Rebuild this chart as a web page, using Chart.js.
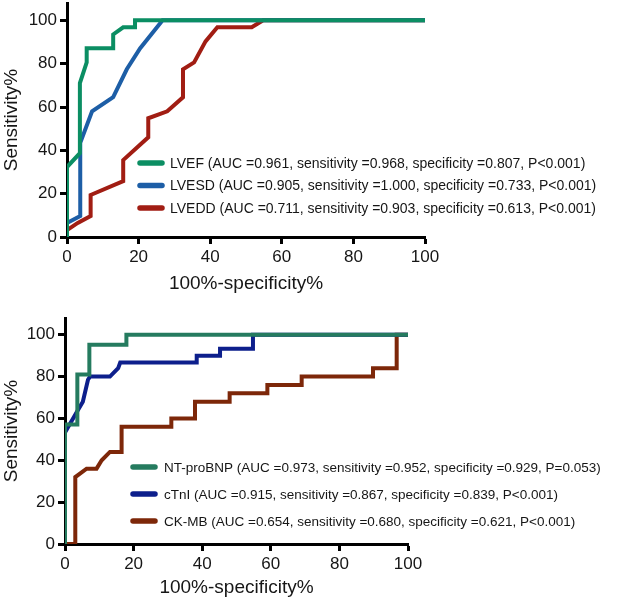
<!DOCTYPE html>
<html>
<head>
<meta charset="utf-8">
<script src="https://cdn.jsdelivr.net/npm/chart.js@4.4.0/dist/chart.umd.min.js"></script>
<style>
  html, body { margin: 0; padding: 0; background: #fff; }
  #wrap { position: relative; width: 618px; height: 602px; }
  canvas { position: absolute; left: 0; }
  #rocTop { top: 0; }
  #rocBottom { top: 300px; }
</style>
</head>
<body>
<div id="wrap">
  <canvas id="rocTop" width="618" height="300"></canvas>
  <canvas id="rocBottom" width="618" height="302"></canvas>
</div>
<script>
// tick labels
const xTicks = [0, 20, 40, 60, 80, 100];
const yTicks = [0, 20, 40, 60, 80, 100];

// top panel: echo parameters
const lvefX  = [0, 0, 3.6, 3.6, 5.5, 5.5, 12.9, 12.9, 15.7, 19, 19, 100];
const lvefY  = [0, 32.3, 38.7, 71, 80.6, 87.1, 87.1, 93.5, 96.8, 96.8, 100, 100];
const lvesdX = [0, 0, 3.7, 3.7, 7, 12.9, 16.7, 20.4, 26.7, 100];
const lvesdY = [0, 6.5, 9.7, 43.5, 58, 64.5, 77.4, 87, 100, 100];
const lveddX = [0, 0, 3, 6.6, 6.6, 15.7, 15.7, 22.7, 22.7, 28, 32.4, 32.4, 35.5, 38.7, 42, 51.6, 54.8, 100];
const lveddY = [0, 3.2, 6.5, 9.7, 19.4, 25.8, 35.5, 46, 54.8, 58, 64.5, 77.4, 80.6, 90.3, 96.8, 96.8, 100, 100];

// bottom panel: biomarkers
const ntX  = [0, 0, 3.6, 3.6, 7.1, 7.1, 17.9, 17.9, 100];
const ntY  = [0, 57.1, 57.1, 81, 81, 95.2, 95.2, 100, 100];
const ctnX = [0, 0, 3.4, 5.2, 6.7, 7.3, 13.1, 15.5, 16.1, 38.4, 38.4, 45.2, 45.2, 54.8, 54.8, 100];
const ctnY = [0, 53.3, 63, 68, 78.5, 80, 80, 84, 86.7, 86.7, 90, 90, 93.3, 93.3, 100, 100];
const ckX  = [0, 3, 3, 6.3, 9.2, 10.7, 13.1, 16.5, 16.5, 31, 31, 37.9, 37.9, 48, 48, 59, 59, 69, 69, 89.8, 89.8, 96.7, 96.7, 100];
const ckY  = [0, 0, 32, 36, 36, 40, 44, 44, 56, 56, 60, 60, 68, 68, 72, 72, 76, 76, 80, 80, 84, 84, 100, 100];

const topLabels = [
  "LVEF (AUC =0.961, sensitivity =0.968, specificity =0.807, P<0.001)",
  "LVESD (AUC =0.905, sensitivity =1.000, specificity =0.733, P<0.001)",
  "LVEDD (AUC =0.711, sensitivity =0.903, specificity =0.613, P<0.001)"
];
const bottomLabels = [
  "NT-proBNP (AUC =0.973, sensitivity =0.952, specificity =0.929, P=0.053)",
  "cTnI (AUC =0.915, sensitivity =0.867, specificity =0.839, P<0.001)",
  "CK-MB (AUC =0.654, sensitivity =0.680, specificity =0.621, P<0.001)"
];

const family = "'Liberation Sans', Arial, Helvetica, sans-serif";
const ink = "#161616";

function pts(xs, ys) {
  return xs.map((x, i) => ({ x: x, y: ys[i] }));
}

function series(label, xs, ys, color) {
  return {
    label: label,
    data: pts(xs, ys),
    borderColor: color,
    backgroundColor: color,
    borderWidth: 4,
    pointRadius: 0,
    tension: 0,
    fill: false,
    borderCapStyle: "round"
  };
}

// legend drawn inside the plot
const insetLegend = {
  id: "insetLegend",
  afterDatasetsDraw(chart, args, opts) {
    const ctx = chart.ctx;
    ctx.save();
    ctx.font = opts.size + "px " + family;
    ctx.textBaseline = "middle";
    chart.data.datasets.forEach((ds, i) => {
      const y = opts.y + i * opts.gap;
      ctx.strokeStyle = ds.borderColor;
      ctx.lineWidth = 5.5;
      ctx.lineCap = "round";
      ctx.beginPath();
      ctx.moveTo(opts.x1, y);
      ctx.lineTo(opts.x2, y);
      ctx.stroke();
      ctx.fillStyle = ink;
      ctx.fillText(ds.label, opts.tx, y + 1);
    });
    ctx.restore();
  }
};

function makeScales(yWidth, xHeight, titleBottom) {
  const grid = { drawOnChartArea: false, drawTicks: true, tickLength: 7, tickWidth: 3, tickColor: "#000" };
  const border = { display: true, color: "#000", width: 3 };
  return {
    x: {
      type: "linear", min: 0, max: 100,
      afterBuildTicks: s => { s.ticks = xTicks.map(v => ({ value: v })); },
      afterFit: s => { s.height = xHeight; s.paddingLeft = 0; s.paddingRight = 0; },
      grid: grid, border: border,
      ticks: { color: ink, font: { family: family, size: 17 }, padding: 3, maxRotation: 0, autoSkip: false },
      title: { display: true, text: "100%-specificity%", color: ink, font: { family: family, size: 19 }, padding: { top: 0, bottom: titleBottom } }
    },
    y: {
      type: "linear", min: 0, max: 108,
      afterBuildTicks: s => { s.ticks = yTicks.map(v => ({ value: v })); },
      afterFit: s => { s.width = yWidth; s.paddingTop = 0; s.paddingBottom = 0; },
      grid: grid, border: border,
      ticks: { color: ink, font: { family: family, size: 17 }, padding: 3 },
      title: { display: true, text: "Sensitivity%", color: ink, font: { family: family, size: 19 }, padding: { top: 0, bottom: 0 } }
    }
  };
}

new Chart(document.getElementById("rocTop").getContext("2d"), {
  type: "line",
  data: {
    datasets: [
      series(topLabels[0], lvefX, lvefY, "#0b8e63"),
      series(topLabels[1], lvesdX, lvesdY, "#1d5ea6"),
      series(topLabels[2], lveddX, lveddY, "#a11d13")
    ]
  },
  options: {
    responsive: false,
    animation: false,
    layout: { padding: { top: 3, right: 193, left: 0, bottom: 0 } },
    scales: makeScales(67, 63, 5),
    plugins: {
      legend: { display: false },
      tooltip: { enabled: false },
      insetLegend: { x1: 140, x2: 162, tx: 170, y: 163, gap: 22.5, size: 14 }
    }
  },
  plugins: [insetLegend]
});

new Chart(document.getElementById("rocBottom").getContext("2d"), {
  type: "line",
  data: {
    datasets: [
      series(bottomLabels[0], ntX, ntY, "#257b5f"),
      series(bottomLabels[1], ctnX, ctnY, "#0d1f8c"),
      series(bottomLabels[2], ckX, ckY, "#7d2709")
    ]
  },
  options: {
    responsive: false,
    animation: false,
    layout: { padding: { top: 18, right: 210, left: 0, bottom: 0 } },
    scales: makeScales(65, 58, 3),
    plugins: {
      legend: { display: false },
      tooltip: { enabled: false },
      insetLegend: { x1: 133, x2: 155, tx: 164, y: 167, gap: 27, size: 13.5 }
    }
  },
  plugins: [insetLegend]
});
</script>
</body>
</html>
